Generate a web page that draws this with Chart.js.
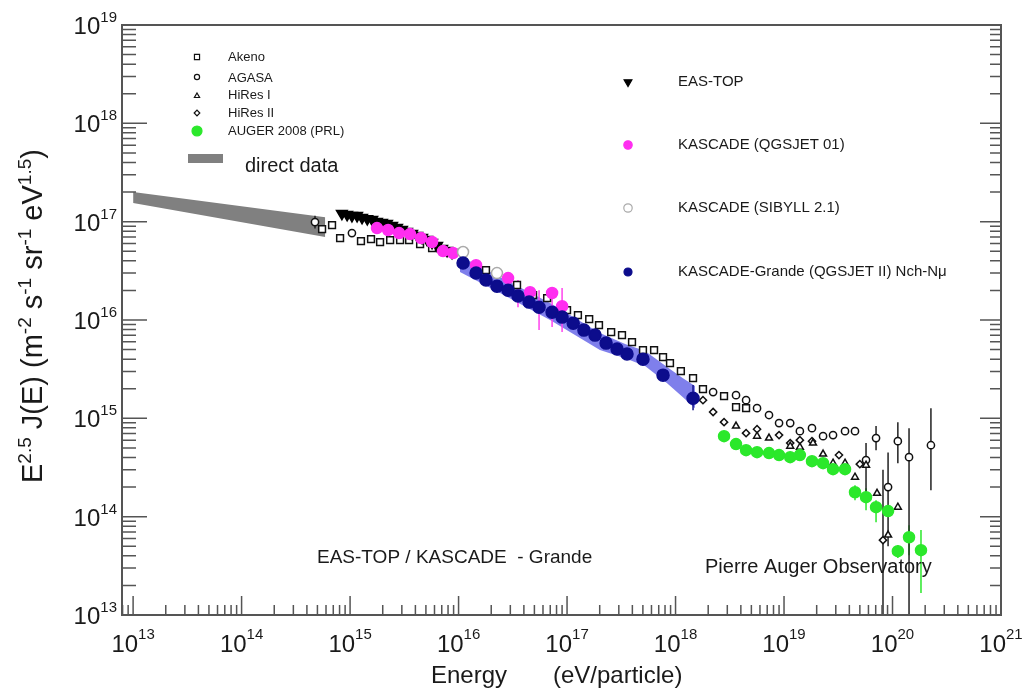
<!DOCTYPE html>
<html>
<head>
<meta charset="utf-8">
<script src="https://cdn.jsdelivr.net/npm/chart.js@4.4.1/dist/chart.umd.min.js"></script>
<style>
  body { margin: 0; background: #fff; }
  canvas { display: block; }
</style>
</head>
<body>
<canvas id="myChart" width="1023" height="691"></canvas>
<script>
// energies in eV/particle, fluxes as E^2.5 J(E) in m^-2 s^-1 sr^-1 eV^1.5
var FONT = '"Liberation Sans", Arial, sans-serif';

// direct measurements: gray band (upper and lower edge)
var directE = [1e13, 5.9e14];
var directHi = [2.0e17, 1.11e17];
var directLo = [1.55e17, 6.97e16];

// EAS-TOP
var easTopE = [8.4e14, 9.4e14, 1.04e15, 1.16e15, 1.29e15, 1.44e15, 1.60e15, 1.77e15, 1.97e15, 2.19e15, 2.44e15, 2.71e15, 3.01e15, 3.35e15, 3.73e15, 4.15e15, 4.61e15, 5.13e15, 5.70e15, 6.34e15, 7.05e15, 7.84e15, 8.71e15];
var easTopF = [1.21e17, 1.18e17, 1.15e17, 1.15e17, 1.10e17, 1.07e17, 1.05e17, 1.00e17, 9.77e16, 9.55e16, 9.10e16, 8.69e16, 8.30e16, 7.91e16, 7.55e16, 7.21e16, 6.89e16, 6.57e16, 6.12e16, 5.71e16, 5.32e16, 5.08e16, 4.85e16];
var easTopErrLo = [1.12e17, 1.10e17, 1.07e17, 1.07e17, 1.02e17, 9.9e16, 9.7e16, 9.2e16, 9.0e16, 8.8e16, 8.4e16, 8.0e16, 7.6e16, 7.3e16, 6.9e16, 6.6e16, 6.3e16, 6.0e16, 5.6e16, 5.2e16, 4.8e16, 4.6e16, 4.4e16];

// Akeno
var akenoE = [5.52e14, 6.82e14, 8.09e14, 1.26e15, 1.56e15, 1.89e15, 2.34e15, 2.89e15, 3.50e15, 4.42e15, 5.70e15, 1.79e16, 3.46e16, 4.86e16, 6.55e16, 1.0e17, 1.26e17, 1.60e17, 1.97e17, 2.55e17, 3.21e17, 3.97e17, 5.01e17, 6.34e17, 7.67e17, 8.89e17, 1.12e18, 1.45e18, 1.79e18, 2.80e18, 3.61e18, 4.47e18];
var akenoF = [8.41e16, 9.23e16, 6.81e16, 6.35e16, 6.65e16, 6.20e16, 6.50e16, 6.50e16, 6.50e16, 5.92e16, 5.39e16, 3.22e16, 2.27e16, 1.79e16, 1.67e16, 1.26e16, 1.12e16, 1.02e16, 8.87e15, 7.53e15, 7.02e15, 5.96e15, 4.94e15, 4.94e15, 4.20e15, 3.65e15, 3.02e15, 2.56e15, 1.98e15, 1.68e15, 1.30e15, 1.27e15];

// AGASA
var agasaE = [4.75e14, 1.04e15, 2.22e18, 3.61e18, 4.47e18, 5.64e18, 7.27e18, 9.0e18, 1.14e19, 1.40e19, 1.81e19, 2.29e19, 2.83e19, 3.65e19, 4.51e19, 5.70e19, 7.05e19, 9.1e19, 1.12e20, 1.42e20, 2.26e20];
var agasaF = [9.9e16, 7.66e16, 1.85e15, 1.72e15, 1.53e15, 1.27e15, 1.08e15, 8.94e14, 8.94e14, 7.41e14, 7.94e14, 6.59e14, 6.75e14, 7.41e14, 7.41e14, 3.76e14, 6.30e14, 2.0e14, 5.86e14, 4.03e14, 5.33e14];
var agasaErrE = [4.75e14, 5.70e19, 7.05e19, 8.17e19, 9.1e19, 1.12e20, 1.42e20, 2.26e20];
var agasaErrLo = [8.5e16, 1.47e14, 4.75e14, 1e13, 5.0e13, 3.50e14, 1e13, 1.86e14];
var agasaErrHi = [1.15e17, 5.6e14, 8.34e14, 3.0e14, 4.5e14, 9.15e14, 7.94e14, 1.27e15];

// HiRes I
var hires1E = [3.61e18, 5.64e18, 7.27e18, 1.14e19, 1.40e19, 1.85e19, 2.29e19, 2.83e19, 3.65e19, 4.51e19, 5.70e19, 7.2e19, 9.1e19, 1.12e20];
var hires1F = [8.34e14, 6.59e14, 6.30e14, 5.21e14, 5.09e14, 5.60e14, 4.33e14, 3.50e14, 3.50e14, 2.52e14, 3.34e14, 1.73e14, 6.5e13, 1.25e14];

// HiRes II
var hires2E = [1.79e18, 2.22e18, 2.80e18, 4.47e18, 5.64e18, 9.0e18, 1.14e19, 1.40e19, 1.81e19, 3.21e19, 5.0e19, 8.17e19];
var hires2F = [1.53e15, 1.16e15, 9.15e14, 7.07e14, 7.76e14, 6.75e14, 5.60e14, 6.0e14, 5.86e14, 4.23e14, 3.42e14, 5.77e13];

// AUGER 2008 (PRL)
var augerE = [2.80e18, 3.61e18, 4.47e18, 5.64e18, 7.27e18, 9.0e18, 1.14e19, 1.40e19, 1.81e19, 2.29e19, 2.83e19, 3.65e19, 4.51e19, 5.70e19, 7.05e19, 9.1e19, 1.12e20, 1.42e20, 1.83e20];
var augerF = [6.59e14, 5.47e14, 4.75e14, 4.53e14, 4.43e14, 4.23e14, 4.03e14, 4.23e14, 3.67e14, 3.50e14, 3.04e14, 3.04e14, 1.77e14, 1.58e14, 1.25e14, 1.14e14, 4.46e13, 6.18e13, 4.56e13];
var augerErrE = [4.51e19, 5.70e19, 7.05e19, 1.12e20, 1.42e20, 1.83e20];
var augerErrLo = [1.47e14, 1.16e14, 8.8e13, 3.79e13, 4.06e13, 1.67e13];
var augerErrHi = [2.09e14, 1.95e14, 1.47e14, 5.13e13, 8.2e13, 7.3e13];

// KASCADE (QGSJET 01)
var kasQgsE = [1.77e15, 2.24e15, 2.83e15, 3.57e15, 4.51e15, 5.70e15, 7.19e15, 8.89e15, 1.45e16, 2.86e16, 4.56e16, 7.28e16, 9.0e16];
var kasQgsF = [8.61e16, 8.22e16, 7.66e16, 7.48e16, 6.81e16, 6.21e16, 5.02e16, 4.80e16, 3.61e16, 2.67e16, 1.92e16, 1.88e16, 1.38e16];
var kasQgsErrE = [3.53e16, 5.52e16, 7.28e16, 9.0e16];
var kasQgsErrLo = [1.35e16, 7.89e15, 8.47e15, 7.53e15];
var kasQgsErrHi = [2.55e16, 2.01e16, 2.16e16, 2.11e16];

// KASCADE (SIBYLL 2.1)
var kasSibE = [1.10e16, 2.26e16];
var kasSibF = [4.91e16, 3.0e16];

// KASCADE-Grande (QGSJET II) Nch-Nmu, points and error band
var grandeE = [1.10e16, 1.45e16, 1.79e16, 2.26e16, 2.86e16, 3.53e16, 4.47e16, 5.52e16, 7.28e16, 9.0e16, 1.14e17, 1.43e17, 1.81e17, 2.29e17, 2.89e17, 3.57e17, 5.01e17, 7.67e17, 1.45e18];
var grandeF = [3.79e16, 3.0e16, 2.55e16, 2.21e16, 2.01e16, 1.75e16, 1.52e16, 1.35e16, 1.20e16, 1.07e16, 9.29e15, 7.89e15, 7.02e15, 5.82e15, 5.06e15, 4.50e15, 4.0e15, 2.75e15, 1.60e15];
var grandeErrE = [1.45e18];
var grandeErrLo = [1.21e15];
var grandeErrHi = [2.18e15];
var grandeBandE = [1.03e16, 2.41e16, 6.97e16, 2.01e17, 3.43e17, 5.24e17, 8.36e17, 1.17e18, 1.51e18];
var grandeBandHi = [4.47e16, 2.73e16, 1.49e16, 7.36e15, 5.69e15, 4.83e15, 3.32e15, 2.56e15, 2.13e15];
var grandeBandLo = [3.07e16, 1.88e16, 1.0e16, 4.94e15, 4.09e15, 3.40e15, 2.28e15, 1.64e15, 1.27e15];

// axis decades
var xDecades = [13, 14, 15, 16, 17, 18, 19, 20, 21];
var yDecades = [13, 14, 15, 16, 17, 18, 19];

function pairs(xs, ys) {
    return xs.map(function(x, i) { return {x: x, y: ys[i]}; });
}

// vertical error bars as one broken line: lo, hi, gap, lo, hi, gap ...
function errorBars(xs, lo, hi) {
    var out = [];
    xs.forEach(function(x, i) {
        out.push({x: x, y: lo[i]}, {x: x, y: hi[i]}, {x: x, y: null});
    });
    return out;
}

function band(label, data, color, order, fill) {
    return {type: 'line', label: label, data: data, borderWidth: 0, pointRadius: 0,
            backgroundColor: color, fill: fill, order: order, tension: 0};
}

function bars(data, color, order, width) {
    return {type: 'line', data: data, borderColor: color, borderWidth: width || 1.5, pointRadius: 0,
            spanGaps: false, fill: false, order: order};
}

function markers(label, data, style, radius, fillColor, lineColor, order, rotation) {
    return {label: label, data: data, pointStyle: style, pointRadius: radius,
            pointBackgroundColor: fillColor, pointBorderColor: lineColor,
            pointBorderWidth: 1.5, pointRotation: rotation || 0, showLine: false, order: order};
}

var datasets = [
    band('direct', pairs(directE, directHi), '#808080', 20, false),
    band('direct', pairs(directE, directLo), '#808080', 20, '-1'),
    band('grande band', pairs(grandeBandE, grandeBandHi), 'rgba(105,105,232,0.85)', 19, false),
    band('grande band', pairs(grandeBandE, grandeBandLo), 'rgba(105,105,232,0.85)', 19, '-1'),
    bars(errorBars(agasaErrE, agasaErrLo, agasaErrHi), '#222', 15),
    bars(errorBars(kasQgsErrE, kasQgsErrLo, kasQgsErrHi), '#ff44ee', 15),
    bars(errorBars(augerErrE, augerErrLo, augerErrHi), '#2be82b', 15),
    bars(errorBars(grandeErrE, grandeErrLo, grandeErrHi), '#10108a', 15),
    bars(errorBars(easTopE, easTopErrLo, easTopF), '#000', 9, 1.2),
    markers('Akeno', pairs(akenoE, akenoF), 'rect', 4.8, '#fff', '#111', 12),
    markers('AGASA', pairs(agasaE, agasaF), 'circle', 3.6, '#fff', '#111', 11),
    markers('HiRes I', pairs(hires1E, hires1F), 'triangle', 4, '#fff', '#111', 10),
    markers('HiRes II', pairs(hires2E, hires2F), 'rectRot', 3.6, '#fff', '#111', 10),
    markers('EAS-TOP', pairs(easTopE, easTopF), 'triangle', 6.2, '#000', '#000', 9, 180),
    markers('KASCADE (QGSJET 01)', pairs(kasQgsE, kasQgsF), 'circle', 5.5, '#ff2ef0', '#ff2ef0', 8),
    markers('KASCADE (SIBYLL 2.1)', pairs(kasSibE, kasSibF), 'circle', 5.5, '#fff', '#aaa', 7),
    markers('KASCADE-Grande', pairs(grandeE, grandeF), 'circle', 6, '#0c0c8c', '#0c0c8c', 6),
    markers('AUGER 2008 (PRL)', pairs(augerE, augerF), 'circle', 5.5, '#2be82b', '#2be82b', 5)
];

// draws "10" with a raised exponent, anchored by its centre or its right edge
function powerLabel(ctx, exp, x, baseY, bigPx, smallPx, rise, align) {
    ctx.font = bigPx + 'px ' + FONT;
    var w1 = ctx.measureText('10').width;
    ctx.font = smallPx + 'px ' + FONT;
    var w2 = ctx.measureText(String(exp)).width;
    var left = align === 'right' ? x - w1 - w2 : x - (w1 + w2) / 2;
    ctx.textAlign = 'left';
    ctx.font = bigPx + 'px ' + FONT;
    ctx.fillText('10', left, baseY);
    ctx.font = smallPx + 'px ' + FONT;
    ctx.fillText(String(exp), left + w1, baseY - rise);
}

function supText(ctx, parts, x, y, bigPx, smallPx, rise) {
    var cx = x;
    parts.forEach(function(p) {
        ctx.font = (p[1] ? smallPx : bigPx) + 'px ' + FONT;
        ctx.fillText(p[0], cx, p[1] ? y - rise : y);
        cx += ctx.measureText(p[0]).width;
    });
}

// ROOT style frame: ticks point into the plot, labels drawn by hand
var frameAxes = {
    id: 'frameAxes',
    afterDatasetsDraw: function(chart) {
        var ctx = chart.ctx, a = chart.chartArea;
        var xs = chart.scales.x, ys = chart.scales.y;
        ctx.save();
        ctx.strokeStyle = '#555';
        ctx.lineWidth = 2;
        ctx.strokeRect(a.left, a.top, a.right - a.left, a.bottom - a.top);
        ctx.lineWidth = 1.5;
        ctx.beginPath();
        for (var d = 12; d <= 21; d++) {
            for (var m = 1; m <= 9; m++) {
                var v = m * Math.pow(10, d);
                if (v >= xs.min && v <= xs.max) {
                    var px = xs.getPixelForValue(v);
                    ctx.moveTo(px, a.bottom);
                    ctx.lineTo(px, a.bottom - (m === 1 ? 19 : 10));
                }
                if (v >= ys.min && v <= ys.max) {
                    var py = ys.getPixelForValue(v);
                    ctx.moveTo(a.left, py);
                    ctx.lineTo(a.left + (m === 1 ? 25 : 14), py);
                    ctx.moveTo(a.right, py);
                    ctx.lineTo(a.right - (m === 1 ? 21 : 11), py);
                }
            }
        }
        ctx.stroke();

        ctx.fillStyle = '#1a1a1a';
        ctx.textBaseline = 'alphabetic';
        xDecades.forEach(function(d) {
            powerLabel(ctx, d, xs.getPixelForValue(Math.pow(10, d)), 652, 24, 15, 13, 'center');
        });
        yDecades.forEach(function(d) {
            var py = ys.getPixelForValue(Math.pow(10, d));
            powerLabel(ctx, d, 117, py + 9, 24, 15, 12, 'right');
        });

        // axis titles
        ctx.font = '24px ' + FONT;
        ctx.textAlign = 'left';
        ctx.fillText('Energy', 431, 683);
        ctx.fillText('(eV/particle)', 553, 683);

        ctx.save();
        ctx.translate(42, 483);
        ctx.rotate(-Math.PI / 2);
        supText(ctx, [['E', 0], ['2.5', 1], [' J(E) (m', 0], ['-2', 1], [' s', 0], ['-1', 1],
                      [' sr', 0], ['-1', 1], [' eV', 0], ['1.5', 1], [')', 0]], 0, 0, 29, 19, 11);
        ctx.restore();
        ctx.restore();
    },
    afterDraw: function(chart) {
        var ctx = chart.ctx;
        var dp = Chart.helpers && Chart.helpers.drawPoint;
        ctx.save();

        function mark(style, r, fill, line, x, y, rot) {
            ctx.fillStyle = fill;
            ctx.strokeStyle = line;
            ctx.lineWidth = 1.2;
            if (dp) {
                dp(ctx, {pointStyle: style, radius: r, rotation: rot || 0, borderWidth: 1.2}, x, y);
            }
        }

        // left legend
        mark('rect', 3.6, '#fff', '#111', 197, 57);
        mark('circle', 2.6, '#fff', '#111', 197, 77);
        mark('triangle', 3, '#fff', '#111', 197, 96);
        mark('rectRot', 2.8, '#fff', '#111', 197, 113);
        mark('circle', 5, '#2be82b', '#2be82b', 197, 131);
        ctx.fillStyle = '#808080';
        ctx.fillRect(188, 154, 35, 9);

        ctx.fillStyle = '#1a1a1a';
        ctx.textAlign = 'left';
        ctx.textBaseline = 'middle';
        ctx.font = '13px ' + FONT;
        ctx.fillText('Akeno', 228, 57);
        ctx.fillText('AGASA', 228, 78);
        ctx.fillText('HiRes I', 228, 95);
        ctx.fillText('HiRes II', 228, 113);
        ctx.fillText('AUGER 2008 (PRL)', 228, 131);
        ctx.font = '20px ' + FONT;
        ctx.fillText('direct data', 245, 166);

        // right legend
        mark('triangle', 4.5, '#000', '#000', 628, 82, 180);
        mark('circle', 4.2, '#ff2ef0', '#ff2ef0', 628, 145);
        mark('circle', 4.2, '#fff', '#aaa', 628, 208);
        mark('circle', 4, '#0c0c8c', '#0c0c8c', 628, 272);
        ctx.fillStyle = '#1a1a1a';
        ctx.font = '15px ' + FONT;
        ctx.fillText('EAS-TOP', 678, 82);
        ctx.fillText('KASCADE (QGSJET 01)', 678, 145);
        ctx.fillText('KASCADE (SIBYLL 2.1)', 678, 208);
        ctx.fillText('KASCADE-Grande (QGSJET II) Nch-N\u03bc', 678, 272);

        // experiment captions
        ctx.font = '19px ' + FONT;
        ctx.fillText('EAS-TOP / KASCADE  - Grande', 317, 558);
        ctx.font = '20px ' + FONT;
        ctx.fillText('Pierre Auger Observatory', 705, 567);
        ctx.restore();
    }
};

var ctx = document.getElementById('myChart');
var myChart = new Chart(ctx, {
    type: 'scatter',
    data: {datasets: datasets},
    options: {
        responsive: false,
        devicePixelRatio: 1,
        animation: false,
        layout: {padding: {left: 122, right: 22, top: 25, bottom: 76}},
        scales: {
            x: {type: 'logarithmic', min: 7.9e12, max: 1e21, display: false},
            y: {type: 'logarithmic', min: 1e13, max: 1e19, display: false}
        },
        plugins: {
            legend: {display: false},
            tooltip: {enabled: false}
        }
    },
    plugins: [frameAxes]
});
</script>
</body>
</html>
